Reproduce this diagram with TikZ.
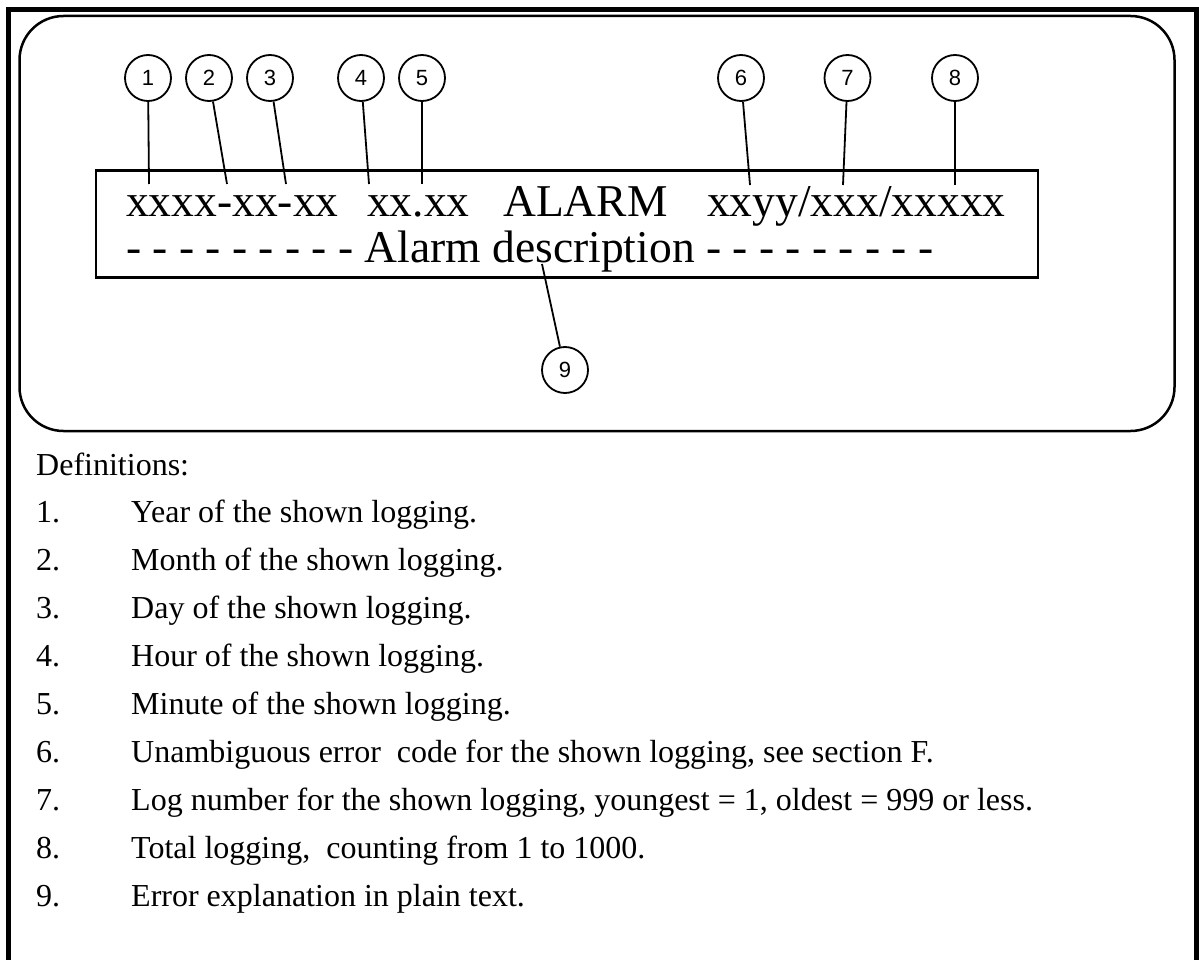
\documentclass[tikz,border=0pt]{standalone}
\usepackage{fontspec}
\setmainfont{Liberation Serif}
\newfontfamily\arialf{Liberation Sans}
\begin{document}
\begin{tikzpicture}[x=1pt,y=-1pt,
  num/.style={circle,draw,line width=1.8pt,minimum size=46pt,inner sep=0pt,font=\arialf\fontsize{22}{22}\selectfont},
  conn/.style={line width=1.8pt},
  big/.style={anchor=base west,inner sep=0pt,font=\fontsize{45.5}{50}\selectfont},
  deftext/.style={anchor=base west,inner sep=0pt,font=\fontsize{32}{36}\selectfont}]
\useasboundingbox (0,0) rectangle (1199,960);
% outer frame
\draw[line width=5pt,line join=miter] (8.5,962) -- (8.5,9.5) -- (1196.5,9.5) -- (1196.5,962);
% rounded panel
\draw[line width=2.5pt,rounded corners=44pt] (19.5,16) rectangle (1174.5,431);
% display box
\draw[line width=2.5pt] (96,170.5) rectangle (1038,277.3);
% display text
\node[big] (t1) at (126,217) {xxxx-xx-xx};
\node[big] (t2) at (367,217) {xx.xx};
\node[big] (t3) at (503,217) {ALARM};
\node[big] (t4) at (707,217) {xxyy/xxx/xxxxx};
\node[big] (t5) at (126,262) {- - - - - - - - - Alarm description - - - - - - - - -};
% numbered circles
\node[num] (c1) at (148,78) {1};
\node[num] (c2) at (209,78) {2};
\node[num] (c3) at (270,78) {3};
\node[num] (c4) at (361,78) {4};
\node[num] (c5) at (422,78) {5};
\node[num] (c6) at (741,78) {6};
\node[num] (c7) at (847.5,78) {7};
\node[num] (c8) at (955,78) {8};
\node[num] (c9) at (565,370) {9};
% pointer ends
\coordinate (p1) at (149,184);
\coordinate (p2) at (227,184);
\coordinate (p3) at (286,184);
\coordinate (p4) at (369,184);
\coordinate (p5) at (422,184);
\coordinate (p6) at (750,185);
\coordinate (p7) at (843,185);
\coordinate (p8) at (955,185);
\coordinate (p9) at (542,264);
\foreach \i in {1,...,9} {\draw[conn] (c\i) -- (p\i);}
% definitions
\node[deftext] (def) at (36,475) {Definitions:};
\foreach \n/\txt [count=\k from 0] in {
  1/{Year of the shown logging.},
  2/{Month of the shown logging.},
  3/{Day of the shown logging.},
  4/{Hour of the shown logging.},
  5/{Minute of the shown logging.},
  6/{Unambiguous error\ \ code for the shown logging, see section F.},
  7/{Log number for the shown logging, youngest = 1, oldest = 999 or less.},
  8/{Total logging,\ \ counting from 1 to 1000.},
  9/{Error explanation in plain text.}} {
  \node[deftext] (n\n) at (36,{522+48.1*\k}) {\n.};
  \node[deftext] (d\n) at (131,{522+48.1*\k}) {\txt};
}
\end{tikzpicture}
\end{document}
